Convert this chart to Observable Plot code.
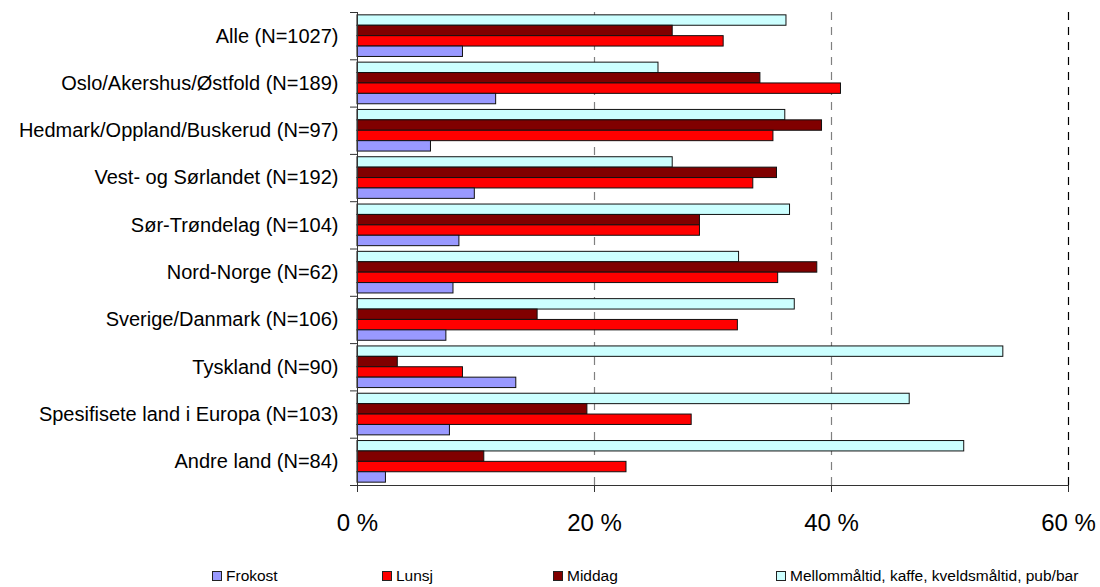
<!DOCTYPE html>
<html>
<head>
<meta charset="utf-8">
<script src="https://cdn.jsdelivr.net/npm/d3@7"></script>
<script src="https://cdn.jsdelivr.net/npm/@observablehq/plot@0.6"></script>
<style>
  html, body { margin: 0; padding: 0; background: #fff; }
  #wrap { position: relative; width: 1100px; height: 587px; font-family: "Liberation Sans", Arial, sans-serif; }
  #legend { position: absolute; top: 567px; left: 0; width: 1100px; height: 20px; font-size: 15.5px; color: #000; }
  .item { position: absolute; top: 0; display: flex; align-items: center; white-space: nowrap; }
  .sw { width: 8px; height: 8px; border: 1px solid #222; margin-right: 4px; }
</style>
</head>
<body>
<div id="wrap">
  <div id="chart"></div>
  <div id="legend"></div>
</div>
<script>
// Categories (top to bottom)
const categories = [
  "Alle (N=1027)",
  "Oslo/Akershus/Østfold (N=189)",
  "Hedmark/Oppland/Buskerud (N=97)",
  "Vest- og Sørlandet (N=192)",
  "Sør-Trøndelag (N=104)",
  "Nord-Norge (N=62)",
  "Sverige/Danmark (N=106)",
  "Tyskland (N=90)",
  "Spesifisete land i Europa (N=103)",
  "Andre land (N=84)"
];

// Series names (legend order)
const seriesNames = ["Frokost", "Lunsj", "Middag", "Mellommåltid, kaffe, kveldsmåltid, pub/bar"];

// Values in percent, one array per series, in category order
const frokost = [8.9, 11.7, 6.2, 9.9, 8.6, 8.1, 7.5, 13.4, 7.8, 2.4];
const lunsj   = [30.9, 40.8, 35.1, 33.4, 28.9, 35.5, 32.1, 8.9, 28.2, 22.7];
const middag  = [26.6, 34.0, 39.2, 35.4, 28.9, 38.8, 15.2, 3.4, 19.4, 10.7];
const mellom  = [36.2, 25.4, 36.1, 26.6, 36.5, 32.2, 36.9, 54.5, 46.6, 51.2];

// X axis ticks
const xTicks = [0, 20, 40, 60];

const colors = {
  "Frokost": "#9999FF",
  "Lunsj": "#FF0000",
  "Middag": "#800000",
  "Mellommåltid, kaffe, kveldsmåltid, pub/bar": "#CCFFFF"
};

// Order of bars inside each group, top to bottom
const stackOrder = [
  ["Mellommåltid, kaffe, kveldsmåltid, pub/bar", mellom],
  ["Middag", middag],
  ["Lunsj", lunsj],
  ["Frokost", frokost]
];

const gap = 0.06;            // outer padding of a group, in category units
const barW = (1 - 2 * gap) / stackOrder.length;

const rows = [];
categories.forEach((cat, i) => {
  stackOrder.forEach(([name, vals], j) => {
    const y1 = i + gap + j * barW;
    rows.push({cat, series: name, value: vals[i], y1, y2: y1 + barW});
  });
});

const chart = Plot.plot({
  width: 1100,
  height: 545,
  marginTop: 12,
  marginBottom: 60,
  marginLeft: 357,
  marginRight: 32,
  style: {fontFamily: "'Liberation Sans', Arial, sans-serif", fontSize: "20px", color: "#000", background: "#fff"},
  x: {domain: [0, 60], axis: null},
  y: {domain: [0, categories.length], reverse: true, axis: null},
  marks: [
    Plot.ruleX([20, 40], {stroke: "#808080", strokeWidth: 1.2, strokeDasharray: "8,7"}),
    Plot.ruleX([60], {stroke: "#000", strokeWidth: 1.2, strokeDasharray: "8,7"}),
    Plot.rectX(rows, {
      x1: 0, x2: "value", y1: "y1", y2: "y2",
      fill: d => colors[d.series], stroke: "#111", strokeWidth: 1
    }),
    Plot.ruleX([0], {stroke: "#333", strokeWidth: 1}),
    Plot.ruleY([categories.length], {stroke: "#333", strokeWidth: 1}),
    Plot.axisY({
      ticks: d3.range(categories.length + 1),
      tickSize: 7, tickFormat: () => "", stroke: "#333", label: null
    }),
    Plot.axisY({
      ticks: d3.range(categories.length).map(i => i + 0.5),
      tickSize: 0, tickPadding: 19, fontSize: 20, label: null,
      tickFormat: d => categories[Math.floor(d)]
    }),
    Plot.axisX({
      ticks: xTicks, tickSize: 7, tickPadding: 21, fontSize: 24, label: null,
      tickFormat: d => `${d} %`, stroke: "#333"
    })
  ]
});
document.getElementById("chart").appendChild(chart);

// Legend
const legendLeft = [212, 382, 553, 776];
const legend = document.getElementById("legend");
seriesNames.forEach((name, k) => {
  const it = document.createElement("div");
  it.className = "item";
  it.style.left = legendLeft[k] + "px";
  const sw = document.createElement("span");
  sw.className = "sw";
  sw.style.background = colors[name];
  const tx = document.createElement("span");
  tx.textContent = name;
  it.appendChild(sw);
  it.appendChild(tx);
  legend.appendChild(it);
});
</script>
</body>
</html>
